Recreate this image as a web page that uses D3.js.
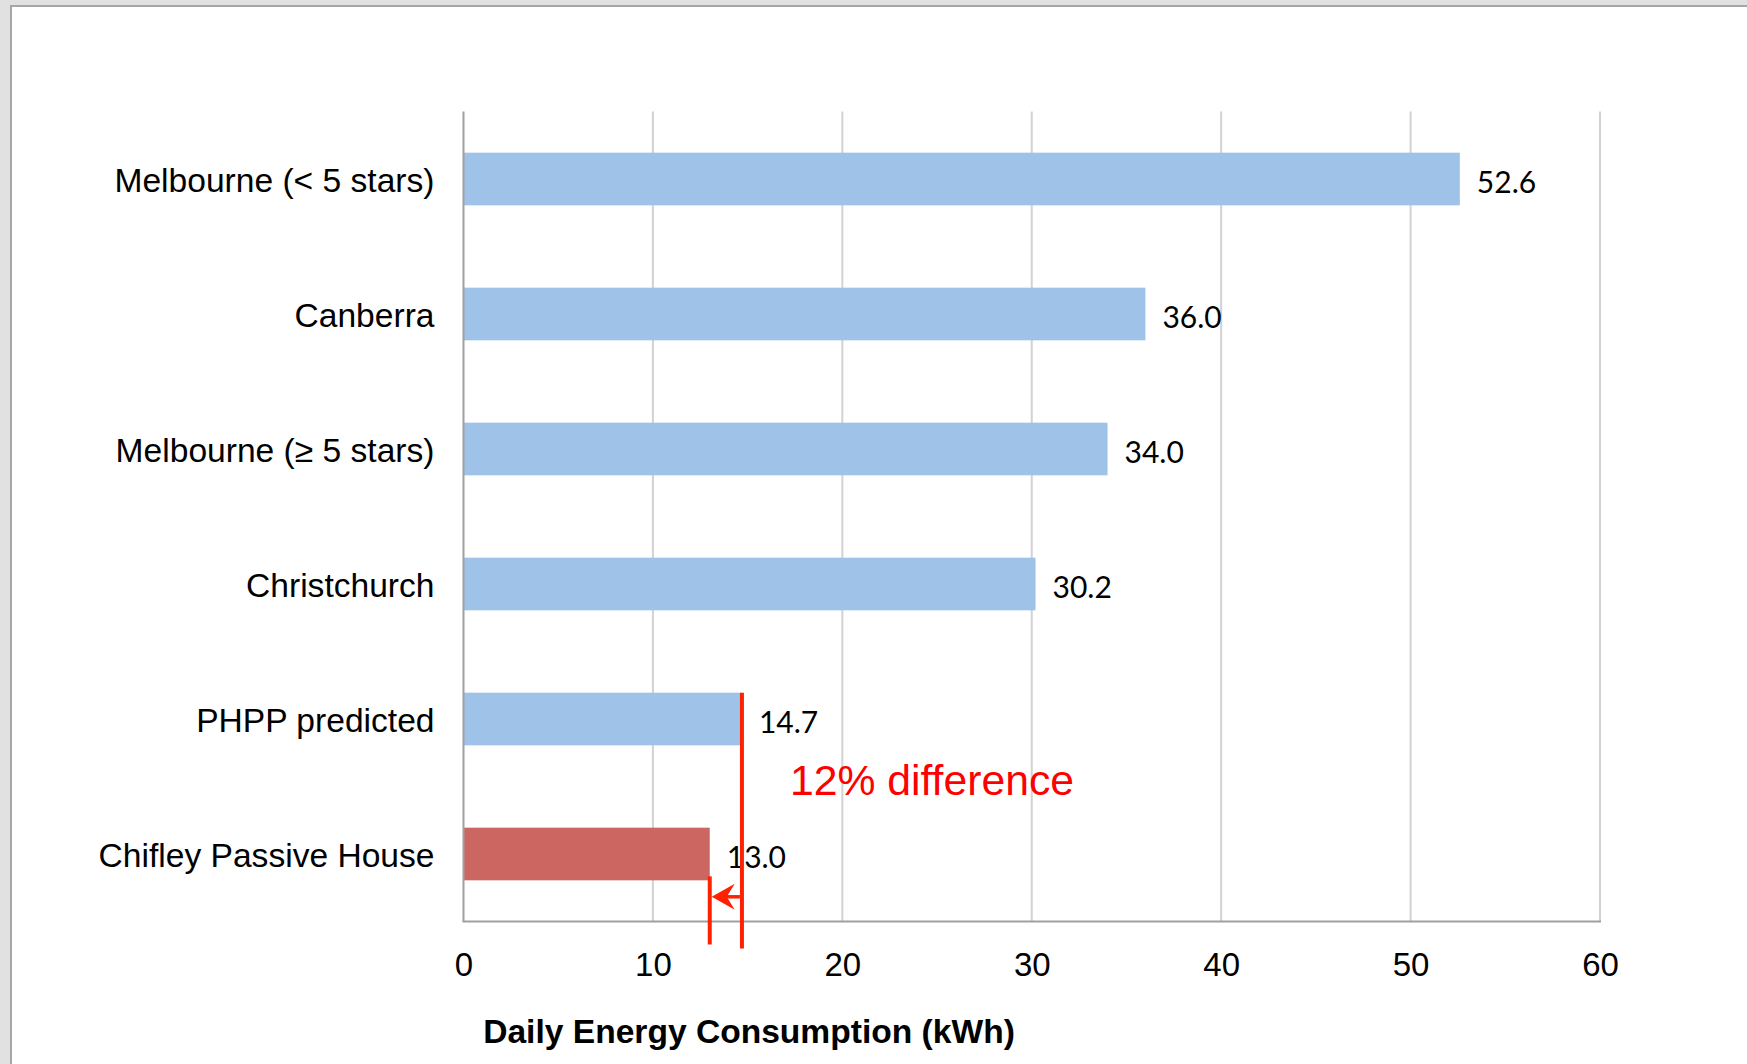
<!DOCTYPE html>
<html>
<head>
<meta charset="utf-8">
<script src="https://cdn.jsdelivr.net/npm/d3@7"></script>
<style>
  html, body { margin: 0; padding: 0; background: #fff; }
  svg { display: block; }
</style>
</head>
<body>
<svg id="chart" width="1747" height="1064"></svg>
<script>
// ---- data ----
const categories = [
  "Melbourne (< 5 stars)",
  "Canberra",
  "Melbourne (\u2265 5 stars)",
  "Christchurch",
  "PHPP predicted",
  "Chifley Passive House"
];
const values = [52.6, 36.0, 34.0, 30.2, 14.7, 13.0];
const barColors = ["#9fc2e9", "#9fc2e9", "#9fc2e9", "#9fc2e9", "#9fc2e9", "#cc6660"];
const xTicks = [0, 10, 20, 30, 40, 50, 60];
const xTitle = "Daily Energy Consumption (kWh)";
const annotationText = "12% difference";
const predictedValue = 14.7;
const measuredValue = 13.0;

(function () {
// ---- layout ----
const W = 1747, H = 1064;
const pLeft = 463.5, pRight = 1600, pTop = 111.5, pBottom = 921.5;

const svg = d3.select("#chart");

// page frame
svg.append("rect").attr("x", 0).attr("y", 0).attr("width", W).attr("height", 5).attr("fill", "#e1e1e1");
svg.append("rect").attr("x", 0).attr("y", 0).attr("width", 10).attr("height", H).attr("fill", "#e1e1e1");
svg.append("rect").attr("x", 10).attr("y", 5).attr("width", W - 10).attr("height", 2).attr("fill", "#a6a6a6");
svg.append("rect").attr("x", 10).attr("y", 5).attr("width", 2).attr("height", H - 5).attr("fill", "#a6a6a6");

const x = d3.scaleLinear().domain([0, 60]).range([pLeft, pRight]);
const y = d3.scaleBand().domain(categories).range([pTop, pBottom]).paddingInner(0.61).paddingOuter(0.305);

// gridlines
svg.append("g").selectAll("line").data(xTicks.filter(t => t > 0)).join("line")
  .attr("x1", d => x(d)).attr("x2", d => x(d))
  .attr("y1", pTop).attr("y2", pBottom)
  .attr("stroke", "#d2d2d2").attr("stroke-width", 2);

// bars
const data = categories.map((c, i) => ({ c, v: values[i], col: barColors[i] }));
svg.append("g").selectAll("rect").data(data).join("rect")
  .attr("x", x(0)).attr("y", d => y(d.c))
  .attr("width", d => x(d.v) - x(0)).attr("height", y.bandwidth())
  .attr("fill", d => d.col);

// axes lines
svg.append("line").attr("x1", x(0)).attr("x2", x(0)).attr("y1", pTop).attr("y2", pBottom)
  .attr("stroke", "#a0a0a0").attr("stroke-width", 2);
svg.append("line").attr("x1", x(0) - 1).attr("x2", x(60) + 1).attr("y1", pBottom).attr("y2", pBottom)
  .attr("stroke", "#a0a0a0").attr("stroke-width", 2);

// x axis tick labels
const xAxis = d3.axisBottom(x).tickValues(xTicks).tickSize(0).tickPadding(0).tickFormat(d3.format("d"));
const gx = svg.append("g").attr("transform", `translate(0,${pBottom})`).call(xAxis);
gx.select(".domain").remove();
gx.selectAll("text")
  .attr("y", 43).attr("dy", "0.35em")
  .attr("font-family", "Liberation Sans, Arial, sans-serif")
  .attr("font-size", 33).attr("fill", "#000");

// y axis labels
const yAxis = d3.axisLeft(y).tickSize(0).tickPadding(0);
const gy = svg.append("g").attr("transform", `translate(434.5,1)`).call(yAxis);
gy.select(".domain").remove();
gy.selectAll("text")
  .attr("x", 0).attr("dy", "0.35em")
  .attr("font-family", "Liberation Sans, Arial, sans-serif")
  .attr("font-size", 33.6).attr("fill", "#000");

// value labels
svg.append("g").selectAll("text").data(data).join("text")
  .attr("x", d => x(d.v) + 17)
  .attr("y", d => y(d.c) + y.bandwidth() / 2 + 3)
  .attr("dy", "0.35em")
  .attr("font-family", "Lato, Carlito, Calibri, sans-serif")
  .attr("font-size", 30).attr("fill", "#000")
  .text(d => d.v.toFixed(1));

// axis title
svg.append("text")
  .attr("x", 749).attr("y", 1031).attr("dy", "0.35em")
  .attr("text-anchor", "middle")
  .attr("font-family", "Liberation Sans, Arial, sans-serif")
  .attr("font-weight", "bold").attr("font-size", 33.6).attr("fill", "#000")
  .text(xTitle);

// annotation
const red = "#ff2200";
const yPred = y(categories[4]);
const yMeasBottom = y(categories[5]) + y.bandwidth();
const arrowY = yMeasBottom + (pBottom - yMeasBottom) * 0.4;
svg.append("line")
  .attr("x1", x(predictedValue)).attr("x2", x(predictedValue))
  .attr("y1", yPred).attr("y2", pBottom + 27)
  .attr("stroke", red).attr("stroke-width", 4);
svg.append("line")
  .attr("x1", x(measuredValue)).attr("x2", x(measuredValue))
  .attr("y1", yMeasBottom - 4).attr("y2", pBottom + 23)
  .attr("stroke", red).attr("stroke-width", 4);
svg.append("line")
  .attr("x1", x(predictedValue) - 2).attr("x2", x(measuredValue) + 14)
  .attr("y1", arrowY).attr("y2", arrowY)
  .attr("stroke", red).attr("stroke-width", 3.5);
const tipX = x(measuredValue) + 2;
svg.append("path")
  .attr("d", `M${tipX},${arrowY} L${tipX + 23},${arrowY - 13} L${tipX + 15},${arrowY} L${tipX + 23},${arrowY + 13} Z`)
  .attr("fill", red);

svg.append("text")
  .attr("x", 790).attr("y", 780).attr("dy", "0.35em")
  .attr("font-family", "Liberation Sans, Arial, sans-serif")
  .attr("font-size", 42.7).attr("fill", "#ff0000")
  .text(annotationText);
})();
</script>
</body>
</html>
